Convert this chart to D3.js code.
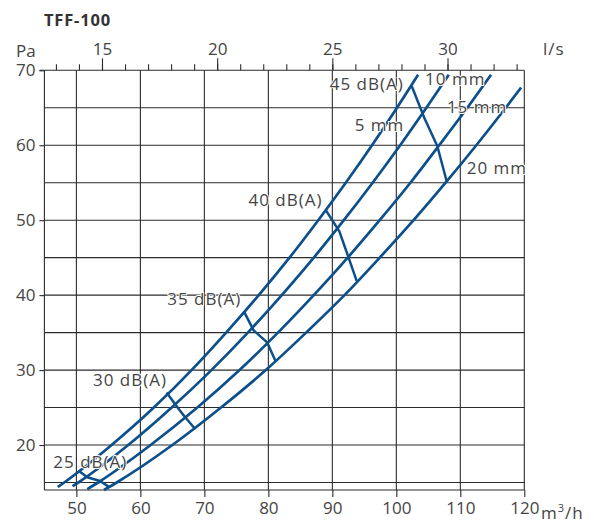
<!DOCTYPE html>
<html>
<head>
<meta charset="utf-8">
<script src="https://cdn.jsdelivr.net/npm/d3@7"></script>
<style>
  body { margin: 0; background: #fff; }
  text { font-family: "Open Sans", "DejaVu Sans", sans-serif; }
  .tick text { font-size: 17px; fill: #444; }
</style>
</head>
<body>
<div id="chart"></div>
<script>
// damper curves, [flow m3/h, pressure Pa]
var curveNames = ["5 mm", "10 mm", "15 mm", "20 mm"];
var curve5mm = [[47.1,14.4],[48.1,15],[55.5,20],[62.1,25],[68.0,30],[73.4,35],[78.5,40],[83.3,45],[87.8,50],[92.1,55],[96.2,60],[100.1,65],[103.4,69.4]];
var curve10mm = [[49.4,14.5],[50.3,15],[58.1,20],[64.9,25],[71.1,30],[76.8,35],[82.1,40],[87.1,45],[91.8,50],[96.3,55],[100.6,60],[104.7,65],[108.2,69.4]];
var curve15mm = [[51.7,14.1],[53.4,15],[61.6,20],[68.9,25],[75.5,30],[81.5,35],[87.1,40],[92.4,45],[97.4,50],[102.2,55],[106.7,60],[111.1,65],[114.8,69.4]];
var curve20mm = [[54.3,14.0],[56.3,15],[65.0,20],[72.6,25],[79.6,30],[85.9,35],[91.9,40],[97.4,45],[102.7,50],[107.7,55],[112.5,60],[117.1,65],[119.5,67.7]];

// sound level lines crossing the four curves
var dbNames = ["25 dB(A)", "30 dB(A)", "35 dB(A)", "40 dB(A)", "45 dB(A)"];
var db25 = [[50.3,16.6],[51.7,15.7],[53.7,15.2],[55.2,14.35]];
var db30 = [[64.1,27.0],[65.9,24.9],[67.0,23.7],[68.5,22.2]];
var db35 = [[76.2,37.8],[77.7,35.3],[79.8,33.7],[81.1,31.25]];
var db40 = [[89.0,51.3],[91.1,48.5],[92.5,45.1],[93.8,41.9]];
var db45 = [[102.4,67.9],[104.4,63.6],[106.4,59.9],[107.9,55.1]];

// ticks
var flowTicks = [50, 60, 70, 80, 90, 100, 110, 120];
var paTicks = [20, 30, 40, 50, 60, 70];
var paGrid = [15, 20, 25, 30, 35, 40, 45, 50, 55, 60, 65];
var lsMajor = [15, 20, 25, 30];
var lsMinor = d3.range(13, 34);

var width = 594;
var height = 526;
var blue = "#0d4f8b";
var grid = "#2b2b2b";
var textColor = "#444";

var svg = d3.select("#chart")
            .append("svg")
            .attr("width", width)
            .attr("height", height);

var xScale = d3.scaleLinear().domain([45, 120]).range([44.4, 524.3]);
var yScale = d3.scaleLinear().domain([14, 70]).range([490, 70.3]);
// l/s on the top axis
var xTop = d3.scaleLinear().domain([45 / 3.6, 120 / 3.6]).range([44.4, 524.3]);

// title
svg.append("text")
   .attr("x", 44)
   .attr("y", 26)
   .attr("font-size", 16.5)
   .attr("font-weight", "bold")
   .attr("letter-spacing", 0.8)
   .attr("fill", "#333")
   .text("TFF-100");

// grid
svg.append("g").selectAll("line")
   .data(paGrid)
   .enter().append("line")
   .attr("x1", xScale(45)).attr("x2", xScale(120))
   .attr("y1", d => yScale(d)).attr("y2", d => yScale(d))
   .attr("stroke", grid).attr("stroke-width", 1.1);

svg.append("g").selectAll("line")
   .data(flowTicks.slice(0, -1))
   .enter().append("line")
   .attr("x1", d => xScale(d)).attr("x2", d => xScale(d))
   .attr("y1", yScale(14)).attr("y2", yScale(70))
   .attr("stroke", grid).attr("stroke-width", 1.1);

// frame right side
svg.append("line")
   .attr("x1", xScale(120)).attr("x2", xScale(120))
   .attr("y1", yScale(14)).attr("y2", yScale(70))
   .attr("stroke", grid).attr("stroke-width", 1.1);

// axes
var xAxis = d3.axisBottom(xScale).tickValues(flowTicks).tickSize(7).tickPadding(5);
var yAxis = d3.axisLeft(yScale).tickValues(paTicks).tickSize(5).tickPadding(4);
var topMinor = d3.axisTop(xTop).tickValues(lsMinor).tickSize(6).tickFormat("");
var topMajor = d3.axisTop(xTop).tickValues(lsMajor).tickSize(12).tickPadding(3);

function styleAxis(g) {
  g.selectAll("path, line").attr("stroke", grid).attr("stroke-width", 1.1);
}

svg.append("g")
   .attr("transform", `translate(0,${yScale(14)})`)
   .call(xAxis).call(styleAxis)
   .call(g => g.selectAll("path").attr("d", `M${xScale(45)},0H${xScale(120)}`));

svg.append("g")
   .attr("transform", `translate(${xScale(45)},0)`)
   .call(yAxis).call(styleAxis)
   .call(g => g.selectAll("path").attr("d", `M0,${yScale(14)}V${yScale(70)}`));

svg.append("g")
   .attr("transform", `translate(0,${yScale(70)})`)
   .call(topMinor).call(styleAxis)
   .call(g => g.selectAll("path").attr("d", `M${xScale(45) - 5},0H${xScale(120)}`));

svg.append("g")
   .attr("transform", `translate(0,${yScale(70)})`)
   .call(topMajor).call(styleAxis)
   .call(g => g.select("path").remove());

svg.selectAll(".tick text").attr("font-family", null);

// unit labels
var unitStyle = t => t.attr("font-size", 17).attr("fill", textColor);
svg.append("text").attr("x", 16).attr("y", 57).text("Pa").call(unitStyle);
svg.append("text").attr("x", 543).attr("y", 55).attr("letter-spacing", 1).text("l/s").call(unitStyle);
var m3 = svg.append("text").attr("x", 541).attr("y", 518.5).attr("letter-spacing", 1).call(unitStyle);
m3.append("tspan").text("m");
m3.append("tspan").attr("font-size", 11).attr("dy", -7).text("3");
m3.append("tspan").attr("dy", 7).text("/h");

// curves
var line = d3.line()
             .x(d => xScale(d[0]))
             .y(d => yScale(d[1]))
             .curve(d3.curveMonotoneX);

var straight = d3.line()
                 .x(d => xScale(d[0]))
                 .y(d => yScale(d[1]));

svg.append("g").selectAll("path")
   .data([curve5mm, curve10mm, curve15mm, curve20mm])
   .enter().append("path")
   .attr("d", line)
   .attr("fill", "none")
   .attr("stroke", blue)
   .attr("stroke-width", 2.7);

svg.append("g").selectAll("path")
   .data([db25, db30, db35, db40, db45])
   .enter().append("path")
   .attr("d", straight)
   .attr("fill", "none")
   .attr("stroke", blue)
   .attr("stroke-width", 2.5)
   .attr("stroke-linejoin", "round");

// labels placed in data units
var curveLabelPos = [[93.5, 61.9], [104.5, 68.0], [107.9, 64.3], [111.0, 56.2]];
var dbLabelPos = [[46.4, 16.9], [52.6, 27.9], [64.2, 38.7], [76.9, 51.9], [89.6, 67.4]];

function addLabels(names, pos) {
  svg.append("g").selectAll("text")
     .data(names)
     .enter().append("text")
     .attr("x", (d, i) => xScale(pos[i][0]))
     .attr("y", (d, i) => yScale(pos[i][1]))
     .attr("font-size", 17)
     .attr("letter-spacing", 1)
     .attr("fill", textColor)
     .attr("stroke", "#fff")
     .attr("stroke-width", 2)
     .attr("paint-order", "stroke")
     .text(d => d);
}
addLabels(curveNames, curveLabelPos);
addLabels(dbNames, dbLabelPos);
</script>
</body>
</html>
